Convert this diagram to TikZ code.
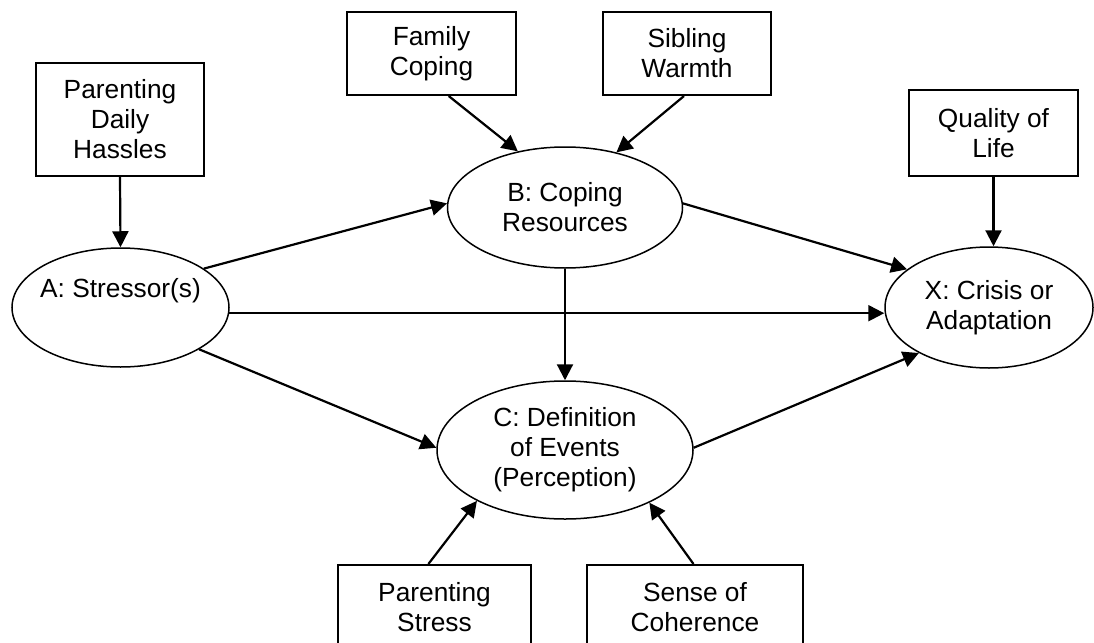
\documentclass[tikz,border=0pt]{standalone}
\usepackage{fontspec}
\setmainfont{Liberation Sans}
\usetikzlibrary{arrows.meta,shapes.geometric,calc}
\begin{document}
\begin{tikzpicture}[x=1pt,y=-1pt,
  every node/.style={font=\fontsize{26.3}{30}\selectfont, align=center},
  box/.style={draw, line width=2pt, rectangle, inner sep=0pt},
  oval/.style={draw, line width=1.5pt, ellipse, inner xsep=-20pt, inner ysep=0pt},
  link/.style={line width=2.2pt, -{Triangle[length=16pt,width=16pt]}}]
\clip (0,0) rectangle (1094,642);
% boxes
\node[box, minimum width=168pt, minimum height=113pt] (pdh) at (120,119.5) {Parenting\\Daily\\Hassles};
\node[box, minimum width=169pt, minimum height=83pt] (fc) at (431.5,53.5) {Family\\Coping};
\node[box, minimum width=168pt, minimum height=83pt] (sw) at (687,53.5) {Sibling\\Warmth};
\node[box, minimum width=169pt, minimum height=86pt] (qol) at (993.5,133) {Quality of\\Life};
\node[box, minimum width=193pt, minimum height=85pt] (ps) at (434.5,607.5) {Parenting\\Stress};
\node[box, minimum width=216pt, minimum height=85pt] (soc) at (695,607.5) {Sense of\\Coherence};
% ellipses
\node[oval, minimum width=217pt, minimum height=119pt] (A) at (120.5,307.5) {A: Stressor(s)\\\strut};
\node[oval, minimum width=235pt, minimum height=121pt] (B) at (565,207.5) {B: Coping\\Resources};
\node[oval, minimum width=256pt, minimum height=138pt] (C) at (565,450) {C: Definition\\of Events\\(Perception)};
\node[oval, minimum width=208pt, minimum height=121pt] (X) at (989,307.5) {X: Crisis or\\Adaptation};
% connectors
\draw[link] (pdh.south) -- (A.north);
\draw[link] (fc.-68) -- (B.130);
\draw[link] (sw.-94) -- (B.47);
\draw[link] (qol.south) -- (qol.south |- X.north);
\draw[link] (A.25) -- (B.178);
\draw[link] (A.-3) -- (A.-3 -| X.west);
\draw[link] (A.-28) -- (C.179);
\draw[link] (B.south) -- (C.north);
\draw[link] (B.2) -- (X.155);
\draw[link] (C.1) -- (X.213);
\draw[link] (ps.98) -- (C.210);
\draw[link] (soc.92) -- (C.-32);
\end{tikzpicture}
\end{document}
